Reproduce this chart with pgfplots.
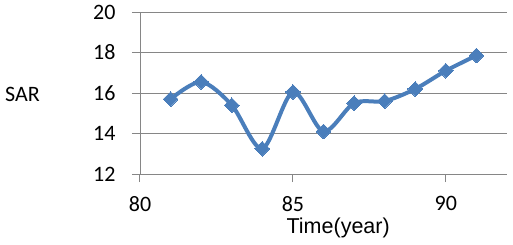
\documentclass[border=0pt]{standalone}
\usepackage{fontspec}
\setmainfont{Carlito}
\newfontfamily\arialfont{Liberation Sans}
\usepackage{pgfplots}
\pgfplotsset{compat=1.18}
\definecolor{sarblue}{HTML}{4A7EBB}
\definecolor{gridgray}{HTML}{868686}
\begin{document}
\begin{tikzpicture}
\begin{axis}[
  scale only axis,
  width=367pt, height=162pt,
  xmin=80, xmax=92, ymin=12, ymax=20,
  xtick={80,85,90}, ytick={12,14,16,18,20},
  axis x line=bottom, axis y line=left,
  axis line style={gridgray, -},
  x axis line style={draw=none},
  ymajorgrids, grid style={gridgray, line width=1pt},
  tick style={gridgray, line width=1pt},
  tick align=outside, major tick length=8pt,
  every tick label/.append style={font=\fontsize{22}{22}\selectfont, black},
  /pgf/number format/assume math mode=true,
  xticklabel style={yshift=-11pt},
  yticklabel style={xshift=-13pt},
  ylabel={SAR},
  ylabel style={rotate=-90, at={(axis description cs:-0.32,0.49)}, anchor=center, font=\fontsize{22}{22}\selectfont},
  xlabel={Time(year)},
  xlabel style={at={(axis description cs:0.54,-0.33)}, anchor=center, font=\arialfont\fontsize{21.5}{21.5}\selectfont},
  clip=false,
]
\addplot[sarblue, line width=4pt, smooth, mark=square*, mark size=5.2pt,
  mark options={rotate=45, line width=0pt, fill=sarblue, draw=sarblue}]
  coordinates {(81,15.7) (82,16.55) (83,15.4) (84,13.25) (85,16.05) (86,14.1) (87,15.5) (88,15.6) (89,16.2) (90,17.1) (91,17.85)};
\end{axis}
\pgfresetboundingbox
\path (-140pt,-70pt) rectangle (373pt,174pt);
\end{tikzpicture}
\end{document}
